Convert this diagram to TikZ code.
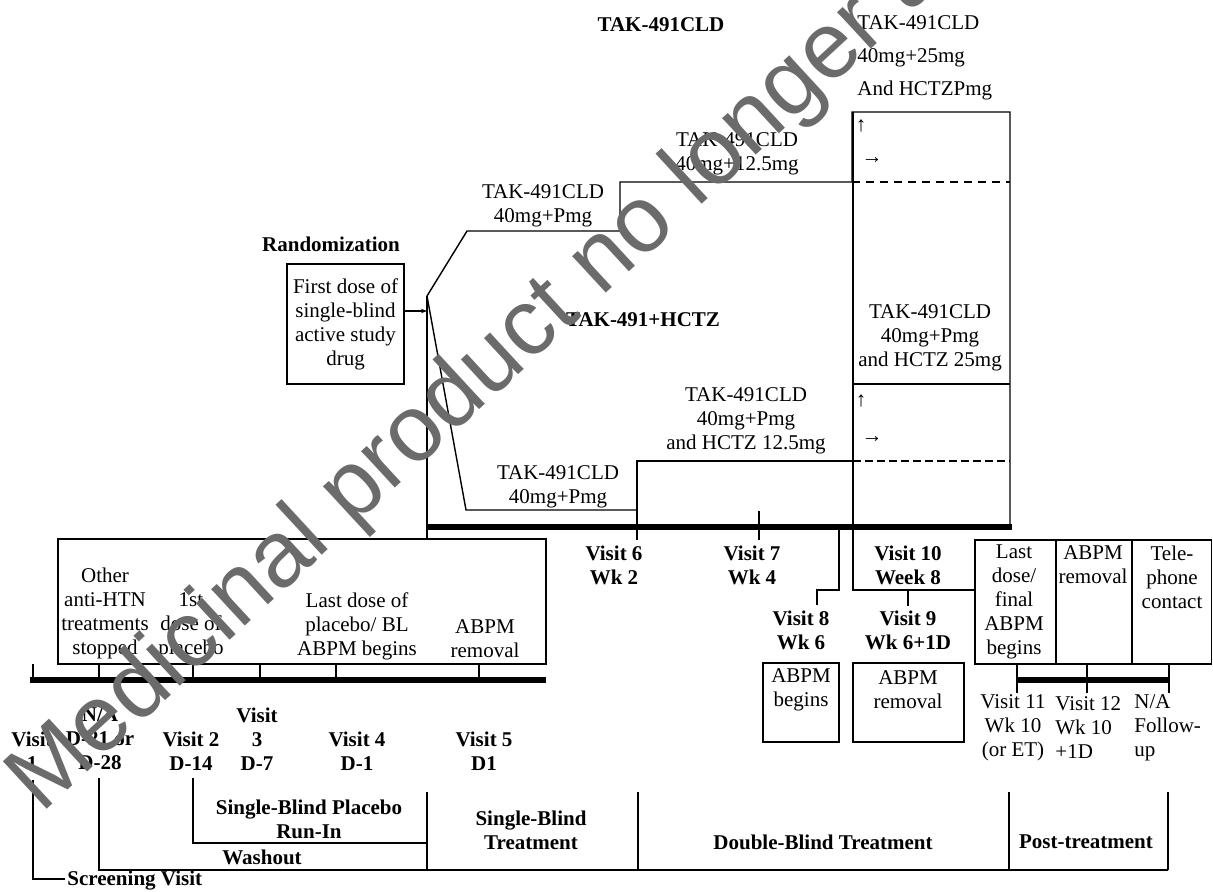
\documentclass[tikz,border=0pt]{standalone}
\usepackage{fontspec}
\setmainfont{Liberation Serif}
\setsansfont{Liberation Sans}
\usetikzlibrary{arrows.meta, positioning, calc}

\begin{document}
\begin{tikzpicture}[x=0.5pt, y=-0.5pt, >=Stealth,
    font=\fontsize{10.5}{12}\selectfont,
    txt/.style={inner sep=0pt, align=center},
    btxt/.style={txt, font=\fontsize{10.5}{12}\selectfont\bfseries},
    ln/.style={line width=0.7pt},
    thk/.style={line width=3pt},
    boxed/.style={draw, line width=0.7pt}]
  \useasboundingbox (0,0) rectangle (1213,892);

  % key points of the arms
  \coordinate (split) at (427,296);
  \coordinate (upA) at (467,231);
  \coordinate (loA) at (466,510);

  % headings
  \node[btxt] (hdrCLD) at (661,25) {TAK-491CLD};
  \node[btxt] (hdrHCTZ) at (643,320) {TAK-491+HCTZ};
  \node[btxt] (rand) at (331,244) {Randomization};
  \node[txt, boxed, minimum width=58.5pt, minimum height=60pt] (first) at (345.5,324)
        {First dose of\\single-blind\\active study\\drug};

  % upper arm: TAK-491CLD
  \draw[ln] (split) -- (upA) -- (620,231) -- (620,182) -- (852,182)
        -- (852,112) -- (1010,112) -- (1010,527);
  \draw[ln, dash pattern=on 4pt off 3pt] (852,182) -- (1010,182);
  \node[txt] (cld1) at (543,205.5) {TAK-491CLD\\40mg+Pmg};
  \node[txt] (cld2) at (737,153.5) {TAK-491CLD\\40mg+12.5mg};
  \node[txt, align=left, anchor=west, font=\fontsize{10.5}{16.5}\selectfont] (cld3)
        at (857,58) {TAK-491CLD\\40mg+25mg\\And HCTZPmg};
  \node[txt] (upU) at (861,126) {↑};
  \node[txt] (upR) at (872,161) {→};

  % lower arm: TAK-491+HCTZ
  \draw[ln] (split) -- (loA) -- (637,510);
  \draw[ln] (637,540) -- (637,461) -- (853,461);
  \draw[ln] (853,112) -- (853,590) -- (975,590);
  \draw[ln] (853,384) -- (1010,384);
  \draw[line width=1.3pt, dash pattern=on 4pt off 2pt] (853,461) -- (1010,461);
  \node[txt] (hc1) at (558,486.5) {TAK-491CLD\\40mg+Pmg};
  \node[txt] (hc2) at (746,421) {TAK-491CLD\\40mg+Pmg\\and HCTZ 12.5mg};
  \node[txt] (hc3) at (930,338) {TAK-491CLD\\40mg+Pmg\\and HCTZ 25mg};
  \node[txt] (loU) at (861,401) {↑};
  \node[txt] (loR) at (872,440) {→};

  % randomization arrow
  \draw[ln] (split) -- (427,539);
  \draw[ln, ->, >={Stealth[length=3pt]}] (first.east |- 0,311) -- (427,311);

  % double-blind time line
  \draw[thk] (427,527) -- (1012,527);
  \draw[ln] (759,511) -- (759,540);
  \draw[ln] (839,527) -- (839,590) -- (817,590) -- (817,605);
  \draw[ln] (908,590) -- (908,606);
  \node[btxt] (v6) at (614,565) {Visit 6\\Wk 2};
  \node[btxt] (v7) at (752,565) {Visit 7\\Wk 4};
  \node[btxt] (v10) at (908,565) {Visit 10\\Week 8};
  \node[btxt] (v8) at (801,630) {Visit 8\\Wk 6};
  \node[btxt] (v9) at (908,630) {Visit 9\\Wk 6+1D};
  \draw[boxed] (763,663) rectangle (839,742);
  \draw[boxed] (853,663) rectangle (964,742);
  \node[txt] (abpmB) at (801,689.5) {ABPM\\begins};
  \node[txt] (abpmR) at (908,689.5) {ABPM\\removal};

  % post-treatment
  \draw[boxed] (975,540) rectangle (1211.5,664);
  \draw[ln] (1056,540) -- (1056,664);
  \draw[ln] (1132,540) -- (1132,664);
  \node[txt] (lastD) at (1014,602) {Last\\dose/\\final\\ABPM\\begins};
  \node[txt] (remP) at (1093,564.5) {ABPM\\removal};
  \node[txt] (tele) at (1172,577) {Tele-\\phone\\contact};
  \draw[thk] (1017,680) -- (1169,680);
  \foreach \x in {1017,1087,1169}
    \draw[ln] (\x,664) -- (\x,693);
  \node[txt] (v11) at (1013,728) {Visit 11\\Wk 10\\(or ET)};
  \node[txt, align=left, anchor=west] (v12) at (1055,728) {Visit 12\\Wk 10\\+1D};
  \node[txt, align=left, anchor=west] (fu) at (1134,728) {N/A\\Follow-\\up};

  % screening and run-in time line
  \draw[boxed] (58,539) rectangle (546,664);
  \draw[thk] (30,680) -- (546,680);
  \foreach \x in {33,99,193,260,336,479}
    \draw[ln] (\x,664) -- (\x,680);
  \node[txt] (stop) at (105,613.5) {Other\\anti-HTN\\treatments\\stopped};
  \node[txt] (pl1) at (191,626) {1st\\dose of\\placebo};
  \node[txt] (plL) at (357,626) {Last dose of\\placebo/ BL\\ABPM begins};
  \node[txt] (remS) at (485,638.5) {ABPM\\removal};
  \node[btxt] (v1) at (32,751.5) {Visit\\1};
  \node[btxt] (na) at (100,739) {N/A\\D-21 or\\D-28};
  \node[btxt] (v2) at (191,751.5) {Visit 2\\D-14};
  \node[btxt] (v3) at (257,739) {Visit\\3\\D-7};
  \node[btxt] (v4) at (357,751.5) {Visit 4\\D-1};
  \node[btxt] (v5) at (484,751.5) {Visit 5\\D1};

  % study periods
  \draw[ln] (33,780) -- (33,879) -- (65,879);
  \draw[ln] (99,778) -- (99,870) -- (1168,870);
  \draw[ln] (193,778) -- (193,843) -- (427,843);
  \foreach \x in {427,638,1009,1168}
    \draw[ln] (\x,792) -- (\x,870);
  \node[btxt, anchor=west] (scr) at (67,881) {Screening Visit};
  \node[btxt] (wash) at (262,857) {Washout};
  \node[btxt] (runin) at (309,819.5) {Single-Blind Placebo\\Run-In};
  \node[btxt] (sbt) at (531,830) {Single-Blind\\Treatment};
  \node[btxt] (dbt) at (823,842) {Double-Blind Treatment};
  \node[btxt] (post) at (1086,842) {Post-treatment};

  % watermark
  \begin{scope}
    \clip (0,0) rectangle (1213,892);
    \node[inner sep=0pt, anchor=base west, rotate=42.7, text=black!58,
          font=\sffamily\fontsize{47}{47}\selectfont] (wm) at (41,815)
          {Medicinal product no longer authorised};
  \end{scope}
\end{tikzpicture}
\end{document}
